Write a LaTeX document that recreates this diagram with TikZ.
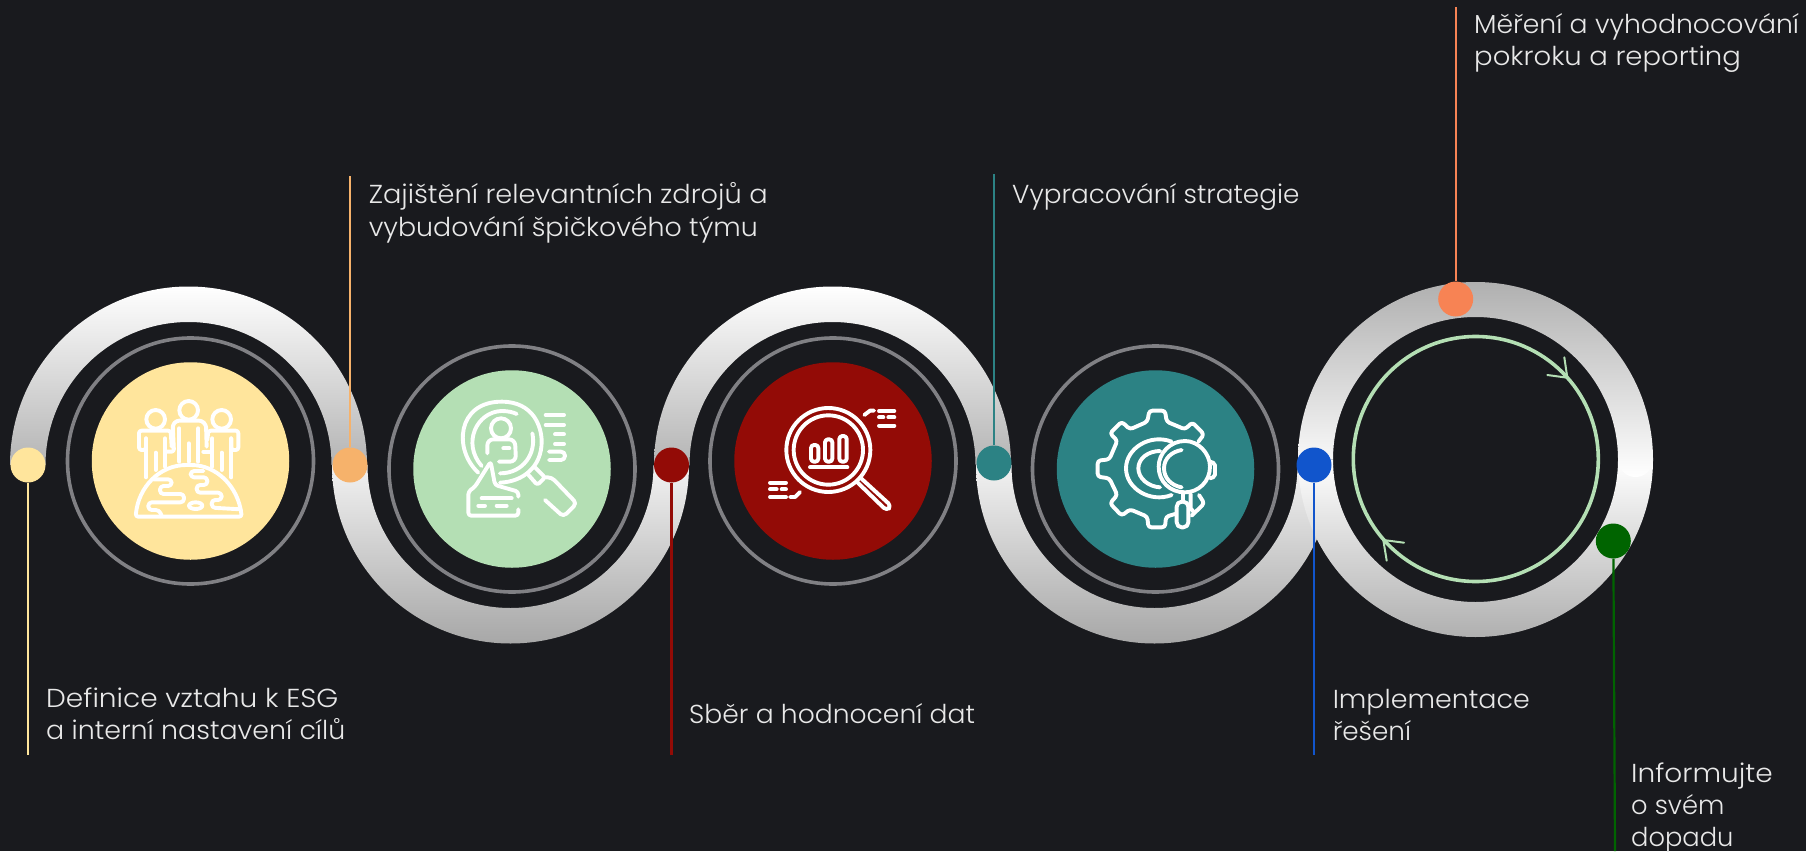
\documentclass[tikz,border=0pt]{standalone}
\usepackage{graphicx}
\usepackage{fontspec}
\setmainfont{Poppins}[UprightFont=* Light]
\definecolor{bgc}{HTML}{191A1E}
\definecolor{ringc}{HTML}{808084}
\definecolor{txt}{HTML}{E8E8E8}
\definecolor{pipeg}{HTML}{B0B0B0}
\definecolor{pipel}{HTML}{F2F2F2}
\definecolor{cyellow}{HTML}{FFE59C}
\definecolor{corange}{HTML}{F6B26B}
\definecolor{cgreen}{HTML}{B4DFB4}
\definecolor{cred}{HTML}{930B06}
\definecolor{cteal}{HTML}{2C8284}
\definecolor{csalmon}{HTML}{F78354}
\definecolor{cblue}{HTML}{1155CC}
\definecolor{cdgreen}{HTML}{006400}
\tikzset{
  disc/.style={circle,fill=#1,inner sep=0pt,minimum size=197.5pt},
  ringn/.style={circle,draw=ringc,line width=3.6pt,inner sep=0pt,minimum size=246pt},
  dotn/.style={circle,fill=#1,inner sep=0pt,minimum size=35pt},
  stem/.style={draw=#1,line width=2.2pt},
  lab/.style={anchor=base west,inner sep=0pt,text=txt,font=\fontsize{26}{32}\selectfont},
  ico/.style={draw=white,line width=3.9pt,line cap=round,line join=round,rounded corners=2.5pt},
  icof/.style={ico,rounded corners=0pt},
}
\newcommand{\pipeup}[2]{\shade[top color=white,bottom color=pipeg!95!white] ({#1-178.5},#2) arc[start angle=180,end angle=360,radius=178.5] -- ({#1+143},#2) arc[start angle=360,end angle=180,radius=143] -- cycle;}
\newcommand{\pipedown}[2]{\shade[top color=pipel,bottom color=pipeg!95!black] ({#1-178.5},#2) arc[start angle=180,end angle=0,radius=178.5] -- ({#1+143},#2) arc[start angle=0,end angle=180,radius=143] -- cycle;}
\newcommand{\fit}[2]{\scalebox{#1}[1]{#2}}
\begin{document}
\begin{tikzpicture}[x=1pt,y=-1pt]
\fill[bgc] (0,0) rectangle (1806,851);
\useasboundingbox (0,0) rectangle (1806,851);
% pipes
\pipedown{510.5}{465}
\pipeup{188.5}{465}
\pipeup{832.5}{465}
\pipedown{1154.5}{465}
\shade[top color=white,bottom color=pipeg] (1298,459.5) arc[start angle=180,end angle=0,radius=177.5] -- (1618,459.5) arc[start angle=0,end angle=180,radius=142.5] -- cycle;
\shade[top color=pipeg,bottom color=white] (1298,459.5) arc[start angle=180,end angle=360,radius=177.5] arc[start angle=0,end angle=180,radius=17.5] arc[start angle=360,end angle=180,radius=142.5] -- cycle;
% rings and discs
\node[ringn] (r1) at (190.5,461) {};
\node[ringn] (r2) at (512,469) {};
\node[ringn] (r3) at (833,461) {};
\node[ringn] (r4) at (1155.5,469) {};
\node[disc=cyellow] (d1) at (190.5,461) {};
\node[disc=cgreen] (d2) at (512,469) {};
\node[disc=cred] (d3) at (833,461) {};
\node[disc=cteal] (d4) at (1155.5,469) {};
% loop ring
\node[circle,draw=cgreen,line width=3.6pt,inner sep=0pt,minimum size=245pt] (loop) at (1475.8,459) {};
\draw[cgreen,line width=2pt,line cap=round] (1564.3,357.3) -- (1567.3,377.7) -- (1547.3,375);
\draw[cgreen,line width=2pt,line cap=round] (1404,542.7) -- (1383.3,540) -- (1386.7,560.7);
% stems
\coordinate (e1) at (28,755);
\coordinate (e2) at (350,176);
\coordinate (e3) at (671.5,755);
\coordinate (e4) at (994,174);
\coordinate (e5) at (1314,755);
\coordinate (e6) at (1455.7,7);
\coordinate (e7) at (1615,851);
\node[dotn=cyellow] (p1) at (28,465) {};
\node[dotn=corange] (p2) at (350,465) {};
\node[dotn=cred] (p3) at (671.5,465) {};
\node[dotn=cteal] (p4) at (994,463) {};
\node[dotn=cblue] (p5) at (1314,465) {};
\node[dotn=csalmon] (p6) at (1455.7,299) {};
\node[dotn=cdgreen] (p7) at (1613.3,541) {};
\draw[stem=cyellow] (p1) -- (e1);
\draw[stem=corange] (p2) -- (e2);
\draw[stem=cred] (p3) -- (e3);
\draw[stem=cteal] (p4) -- (e4);
\draw[stem=cblue] (p5) -- (e5);
\draw[stem=csalmon] (p6) -- (e6);
\draw[stem=cdgreen] (p7) -- (e7);
% labels
\node[lab] (t1a) at (46,707.5) {\fit{1.078}{Definice vztahu k ESG}};
\node[lab] (t1b) at (46,739.5) {\fit{1.032}{a interní nastavení cílů}};
\node[lab] (t2a) at (368.6,203) {\fit{1.047}{Zajištění relevantních zdrojů a}};
\node[lab] (t2b) at (368.6,236) {\fit{1.032}{vybudování špičkového týmu}};
\node[lab] (t3) at (689,723.5) {\fit{1.022}{Sběr a hodnocení dat}};
\node[lab] (t4) at (1012,203) {\fit{1.01}{Vypracování strategie}};
\node[lab] (t5a) at (1332.6,708) {\fit{1.035}{Implementace}};
\node[lab] (t5b) at (1332.6,740.5) {\fit{1.01}{řešení}};
\node[lab] (t6a) at (1474,34) {\fit{1.025}{Měření a vyhodnocování}};
\node[lab] (t6b) at (1474,66) {\fit{1.058}{pokroku a reporting}};
\node[lab] (t7a) at (1631,782) {\fit{1.076}{Informujte}};
\node[lab] (t7b) at (1631,814) {\fit{.99}{o svém}};
\node[lab] (t7c) at (1631,846) {\fit{.99}{dopadu}};
% icon 1
\begin{scope}[shift={(0,270)},x=0.33333pt,y=-0.33333pt]
\draw[icof] (467,448) circle[radius=28];
\draw[icof] (566,421) circle[radius=28];
\draw[icof] (665,448) circle[radius=28];
\draw[ico] (438,505) -- (438,540) -- (417,540) -- (417,482) -- (512,482) -- (515,530);
\draw[ico] (438,505) -- (438,622);
\draw[ico] (467,548) -- (467,600);
\draw[ico] (495,505) -- (495,590);
\draw[ico] (500,545) -- (522,545) -- (518,465) -- (530,452) -- (605,452) -- (618,465) -- (620,530);
\draw[ico] (538,475) -- (538,575);
\draw[ico] (566,520) -- (566,575);
\draw[ico] (595,475) -- (595,575);
\draw[ico] (610,545) -- (632,545);
\draw[ico] (694,505) -- (694,540) -- (715,540) -- (715,482) -- (625,482) -- (622,510);
\draw[ico] (694,505) -- (694,622);
\draw[ico] (665,548) -- (665,600);
\draw[ico] (637,505) -- (637,590);
\draw[ico] (407,740) .. controls (415,650) and (480,585) .. (566,585) .. controls (650,585) and (715,650) .. (725,740) -- cycle;
\draw[ico,rounded corners=3.5pt] (460,628) -- (515,628) -- (515,648) -- (480,648) -- (480,672) -- (552,672) -- (552,697) -- (445,697) -- (445,720) -- (478,720) -- (485,738);
\draw[ico,rounded corners=3.5pt] (610,603) -- (572,603) -- (572,622) -- (622,622) -- (622,645) -- (590,645) -- (590,668) -- (665,668) -- (665,690) -- (635,690) -- (635,713) -- (722,718);
\draw[icof] (587,707) ellipse[x radius=20,y radius=10];
\end{scope}
% icon 2
\begin{scope}[shift={(400,350)},x=0.33333pt,y=-0.33333pt]
\draw[icof] (235,368) .. controls (160,300) and (170,155) .. (305,155) .. controls (400,155) and (425,230) .. (425,275) .. controls (425,350) and (370,395) .. (300,398);
\draw[icof] (245,348) .. controls (185,280) and (230,185) .. (305,183) .. controls (325,183) and (340,187) .. (350,192);
\draw[icof] (397,250) .. controls (410,310) and (370,370) .. (300,370);
\draw[icof] (303,235) circle[radius=30];
\draw[ico,rounded corners=6pt] (262,310) -- (262,268) -- (345,268) -- (348,335) -- (297,335);
\draw[icof] (310,295) -- (328,295);
\draw[ico] (383,372) -- (412,405) -- (435,382) -- (405,352);
\draw[ico,rounded corners=4pt] (435,382) -- (455,382) -- (530,460) -- (490,500) -- (435,450);
\draw[ico,rounded corners=3pt] (355,440) -- (355,425) -- (285,405) -- (272,335) -- (225,410) -- (205,425) -- (205,497) -- (355,497) -- (355,478);
\draw[icof] (245,445) -- (335,445);
\draw[icof] (235,467) -- (255,467);
\draw[icof] (290,467) -- (320,467);
\draw[icof] (437,195) -- (492,195);
\draw[icof] (437,225) -- (492,225);
\draw[icof] (465,253) -- (492,253);
\draw[icof] (465,282) -- (492,282);
\draw[ico,rounded corners=4pt] (447,305) -- (495,305) -- (495,330) -- (447,330);
\end{scope}
% icon 3
\begin{scope}[shift={(730,360)},x=0.33333pt,y=-0.33333pt]
\draw[icof] (295,270) circle[radius=126];
\draw[icof] (295,270) circle[radius=104];
\draw[ico,rounded corners=3pt] (243,305) -- (243,255) -- (265,255) -- (265,305) -- cycle;
\draw[ico,rounded corners=3pt] (285,305) -- (285,238) -- (307,238) -- (307,305) -- cycle;
\draw[ico,rounded corners=3pt] (328,305) -- (328,228) -- (350,228) -- (350,305) -- cycle;
\draw[icof] (240,322) -- (352,322);
\draw[ico,rounded corners=4pt] (390,352) -- (484,438) -- (470,452) -- (380,365);
\draw[icof] (447,153) -- (493,153);
\draw[icof] (447,172) -- (460,172);
\draw[icof] (475,172) -- (493,172);
\draw[icof] (447,197) -- (493,197);
\draw[icof] (403,165) -- (420,152) -- (432,152);
\draw[icof] (120,368) -- (168,368);
\draw[icof] (120,388) -- (140,388);
\draw[icof] (155,388) -- (168,388);
\draw[icof] (120,411) -- (168,411);
\draw[icof] (180,411) -- (195,411) -- (210,396);
\end{scope}
% icon 4
\begin{scope}[shift={(1060,370)},x=0.33333pt,y=-0.33333pt]
\draw[ico,rounded corners=3pt] (415,215) -- (432,193) -- (397,157) -- (375,178) -- (320,155) -- (315,122) -- (268,122) -- (262,155) -- (210,178) -- (185,155) -- (150,190) -- (172,212) -- (148,268) -- (113,272) -- (113,320) -- (148,325) -- (172,375) -- (150,400) -- (185,437) -- (210,418) -- (262,440) -- (265,472) -- (315,472) -- (318,440) -- (345,432);
\draw[ico,rounded corners=3pt] (395,437) -- (433,400) -- (417,375);
\draw[ico,rounded corners=2pt] (450,275) -- (465,280) -- (465,320) -- (450,325);
\draw[icof] (335,215) .. controls (270,190) and (198,235) .. (198,295) .. controls (198,355) and (270,400) .. (335,375);
\draw[icof] (375,213) .. controls (330,213) and (296,250) .. (296,290) .. controls (296,335) and (330,367) .. (375,367) .. controls (415,367) and (450,335) .. (450,290) .. controls (450,250) and (415,213) .. (375,213) -- cycle;
\draw[icof] (300,243) .. controls (265,243) and (235,265) .. (235,295) .. controls (235,325) and (265,350) .. (300,352);
\draw[icof] (365,240) .. controls (335,245) and (312,265) .. (312,295) .. controls (312,325) and (335,347) .. (365,352);
\draw[icof] (368,370) -- (368,395);
\draw[ico,rounded corners=5pt] (350,395) -- (385,395) -- (385,472) -- (350,472) -- cycle;
\draw[icof] (392,372) -- (392,415) -- (400,425);
\end{scope}
\end{tikzpicture}
\end{document}
